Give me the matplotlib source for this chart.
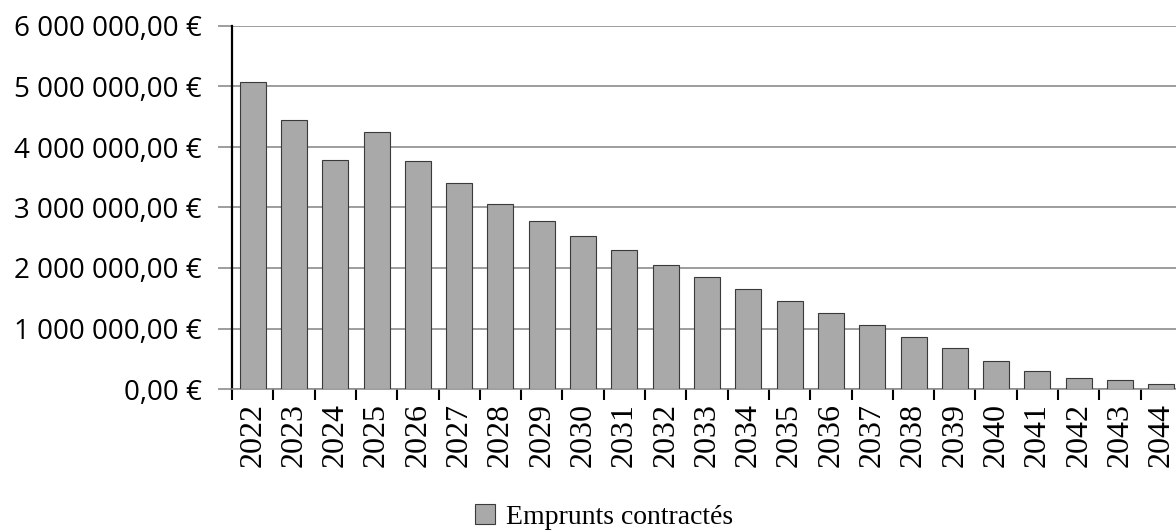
import matplotlib
matplotlib.use("Agg")
import matplotlib.pyplot as plt
import numpy as np
from matplotlib.patches import Patch
from matplotlib.ticker import FuncFormatter

# années et capital restant dû
years = [str(y) for y in range(2022, 2045)]
emprunts = [5070000, 4450000, 3790000, 4250000, 3770000, 3400000, 3060000,
            2780000, 2530000, 2300000, 2050000, 1850000, 1650000, 1450000,
            1260000, 1060000, 855000, 670000, 470000, 290000, 180000,
            150000, 80000]
legend_label = "Emprunts contractés"


def euro(v, pos):
    s = "{:,.2f}".format(v).replace(",", " ").replace(".", ",")
    return s + " €"


fig = plt.figure(figsize=(11.76, 5.31), dpi=100)
# the plot area runs past the right edge of the picture (cropped original)
ax = fig.add_axes([232 / 1176, 1 - 389 / 531, 950 / 1176, 363 / 531])

x = np.arange(len(years))
ax.bar(x, emprunts, width=0.63, color="#a9a9a9", edgecolor="#3a3a3a",
       linewidth=0.8, zorder=3)

ax.set_ylim(0, 6000000)
ax.set_xlim(-0.5, len(years) - 0.5)
ax.set_yticks(np.arange(0, 6000001, 1000000))
ax.yaxis.set_major_formatter(FuncFormatter(euro))
ax.grid(axis="y", color="#8c8c8c", linewidth=1.2, zorder=0)

ax.set_xticks(x)
ax.set_xticklabels(years, rotation=90, family="Liberation Serif", fontsize=23)
ax.set_xticks(np.arange(-0.5, len(years), 1), minor=True)
ax.tick_params(axis="x", which="major", length=0, pad=10)
ax.tick_params(axis="x", which="minor", length=8, width=1.5, color="black")
ax.tick_params(axis="y", length=10, width=1.2, color="#8c8c8c", pad=12)
for lab in ax.get_yticklabels():
    lab.set_family("Open Sans")
    lab.set_fontsize(20)

for s in ["top", "right"]:
    ax.spines[s].set_visible(False)
ax.spines["left"].set_color("black")
ax.spines["left"].set_linewidth(1.6)
ax.spines["bottom"].set_color("#8c8c8c")
ax.spines["bottom"].set_linewidth(1.2)

handle = Patch(facecolor="#a9a9a9", edgecolor="#3a3a3a", linewidth=0.8)
fig.legend([handle], [legend_label], loc="center", bbox_to_anchor=(604 / 1176, 1 - 517 / 531),
           frameon=False, prop={"family": "Liberation Serif", "size": 20},
           handlelength=0.7, handleheight=0.7, handletextpad=0.4)

fig.savefig("out.png", dpi=100)
